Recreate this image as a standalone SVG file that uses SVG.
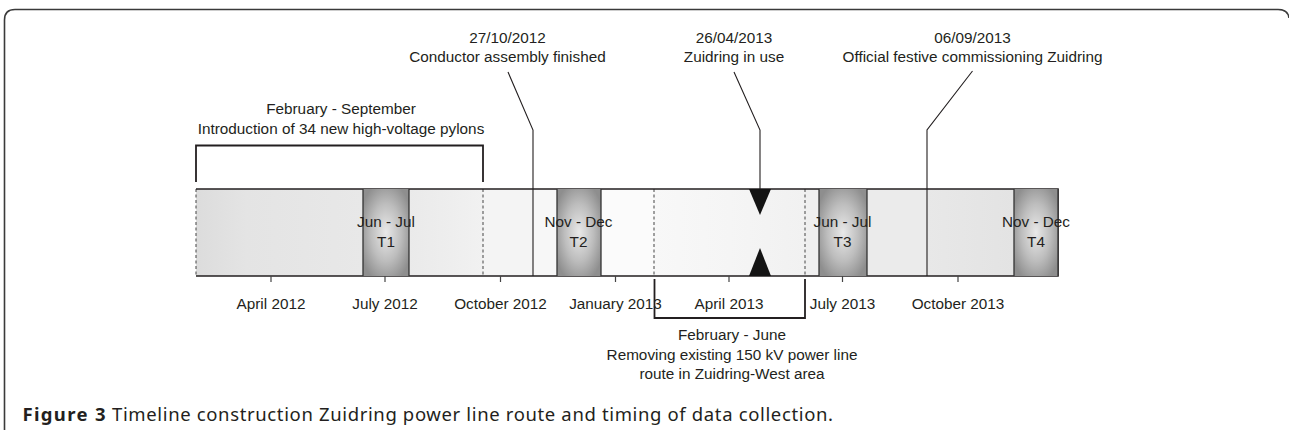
<svg xmlns="http://www.w3.org/2000/svg" width="1289" height="430" viewBox="0 0 1289 430">
<defs>
<linearGradient id="gA" x1="0" y1="0" x2="1" y2="0"><stop offset="0" stop-color="#dcdcdc"/><stop offset="0.3" stop-color="#e4e4e4"/><stop offset="1" stop-color="#e8e8e8"/></linearGradient>
<linearGradient id="gB" x1="0" y1="0" x2="1" y2="0"><stop offset="0" stop-color="#eaeaea"/><stop offset="1" stop-color="#f1f1f1"/></linearGradient>
<linearGradient id="gF" x1="0" y1="0" x2="1" y2="0"><stop offset="0" stop-color="#f8f8f8"/><stop offset="0.5" stop-color="#f5f5f5"/><stop offset="1" stop-color="#f1f1f1"/></linearGradient>
<linearGradient id="gI" x1="0" y1="0" x2="1" y2="0"><stop offset="0" stop-color="#e8e8e8"/><stop offset="1" stop-color="#e3e3e3"/></linearGradient>
<radialGradient id="gT" cx="0.5" cy="0.5" r="0.6"><stop offset="0" stop-color="#e9e9e9"/><stop offset="0.55" stop-color="#bdbdbd"/><stop offset="1" stop-color="#8e8e8e"/></radialGradient>
</defs>
<style>
text{font-family:"Liberation Sans",Arial,sans-serif;font-size:15.3px;fill:#231f20;text-anchor:middle}
.cap{font-family:"Noto Sans","Open Sans",sans-serif;font-size:18.5px;text-anchor:start;fill:#231f20}
.b{font-weight:bold}
.frame{fill:none;stroke:#3a3a3a;stroke-width:1.6}
.lead{fill:none;stroke:#231f20;stroke-width:1.1}
.brk{fill:none;stroke:#231f20;stroke-width:1.8}
.dash{stroke:#555;stroke-width:1.1;stroke-dasharray:3 2.5}
.edge{stroke:#231f20;stroke-width:1.6;fill:none}
.tb{stroke:#333;stroke-width:1.3}
.tick{stroke:#444;stroke-width:1.2}
.tri{fill:#141414}
</style>
<path class="frame" d="M4.5,430 V20 Q4.5,9.5 15,9.5 H1278 Q1288,9.5 1289,18"/>
<g id="bar">
<rect x="196" y="189" width="167" height="87" fill="url(#gA)"/>
<rect x="409" y="189" width="74" height="87" fill="url(#gB)"/>
<rect x="483" y="189" width="50" height="87" fill="#f4f4f4"/>
<rect x="533" y="189" width="24" height="87" fill="#f7f7f7"/>
<rect x="601" y="189" width="53" height="87" fill="#fbfbfb"/>
<rect x="654" y="189" width="151" height="87" fill="url(#gF)"/>
<rect x="805" y="189" width="14" height="87" fill="#efefef"/>
<rect x="867" y="189" width="60" height="87" fill="#ebebeb"/>
<rect x="927" y="189" width="87" height="87" fill="url(#gI)"/>
<line class="dash" x1="196" y1="189" x2="196" y2="276"/>
<line class="dash" x1="483" y1="189" x2="483" y2="276"/>
<line class="dash" x1="654" y1="189" x2="654" y2="276"/>
<line class="dash" x1="805" y1="189" x2="805" y2="276"/>
<path class="edge" d="M196,189 H1058 V276 H196"/>
<line class="tick" x1="271" y1="276" x2="271" y2="282"/>
<line class="tick" x1="385" y1="276" x2="385" y2="282"/>
<line class="tick" x1="500.5" y1="276" x2="500.5" y2="282"/>
<line class="tick" x1="615.5" y1="276" x2="615.5" y2="282"/>
<line class="tick" x1="729" y1="276" x2="729" y2="282"/>
<line class="tick" x1="842.5" y1="276" x2="842.5" y2="282"/>
<line class="tick" x1="958" y1="276" x2="958" y2="282"/>
</g>
<g id="t1">
<rect x="363" y="189" width="46" height="87" fill="url(#gT)"/>
<line class="tb" x1="363" y1="189" x2="363" y2="276"/><line class="tb" x1="409" y1="189" x2="409" y2="276"/>
<text x="386" y="227">Jun - Jul</text><text x="386" y="247">T1</text>
</g>
<g id="t2">
<rect x="557" y="189" width="44" height="87" fill="url(#gT)"/>
<line class="tb" x1="557" y1="189" x2="557" y2="276"/><line class="tb" x1="601" y1="189" x2="601" y2="276"/>
<text x="578.5" y="227">Nov - Dec</text><text x="578.5" y="247">T2</text>
</g>
<g id="t3">
<rect x="819" y="189" width="48" height="87" fill="url(#gT)"/>
<line class="tb" x1="819" y1="189" x2="819" y2="276"/><line class="tb" x1="867" y1="189" x2="867" y2="276"/>
<text x="842.5" y="227">Jun - Jul</text><text x="842.5" y="247">T3</text>
</g>
<g id="t4">
<rect x="1014" y="189" width="44" height="87" fill="url(#gT)"/>
<line class="tb" x1="1014" y1="189" x2="1014" y2="276"/><line class="tb" x1="1058" y1="189" x2="1058" y2="276"/>
<text x="1036" y="227">Nov - Dec</text><text x="1036" y="247">T4</text>
</g>
<g id="connectors">
<path class="brk" d="M196,182 V145.5 H483 V182"/>
<path class="brk" d="M654.5,279 V318 H805 V279"/>
<path class="lead" d="M508,72 L533,130 V276"/>
<path class="lead" d="M734,72 L760,130 V190"/>
<path class="lead" d="M972.5,71 L927,130 V276"/>
<polygon class="tri" points="749,189 771,189 760,215"/>
<polygon class="tri" points="749,276 771,276 760,248"/>
</g>
<g id="ev-pylons"><text x="341" y="113.5">February - September</text><text x="341" y="133.5">Introduction of 34 new high-voltage pylons</text></g>
<g id="ev-conductor"><text x="507.5" y="42.5">27/10/2012</text><text x="507.5" y="62">Conductor assembly finished</text></g>
<g id="ev-inuse"><text x="734" y="42.5">26/04/2013</text><text x="734" y="62">Zuidring in use</text></g>
<g id="ev-official"><text x="972.5" y="42.5">06/09/2013</text><text x="972.5" y="62">Official festive commissioning Zuidring</text></g>
<g id="ev-removing"><text x="732" y="340">February - June</text><text x="732" y="359.5">Removing existing 150 kV power line</text><text x="732" y="378.5">route in Zuidring-West area</text></g>
<g id="axis-labels">
<text x="271" y="308.5">April 2012</text>
<text x="385" y="308.5">July 2012</text>
<text x="500.5" y="308.5">October 2012</text>
<text x="615.5" y="308.5">January 2013</text>
<text x="729" y="308.5">April 2013</text>
<text x="842.5" y="308.5">July 2013</text>
<text x="958" y="308.5">October 2013</text>
</g>
<g id="caption">
<text class="cap b" x="22.5" y="421" textLength="83" lengthAdjust="spacing">Figure 3</text>
<text class="cap" x="112" y="421" textLength="721" lengthAdjust="spacing">Timeline construction Zuidring power line route and timing of data collection.</text>
</g>
</svg>
